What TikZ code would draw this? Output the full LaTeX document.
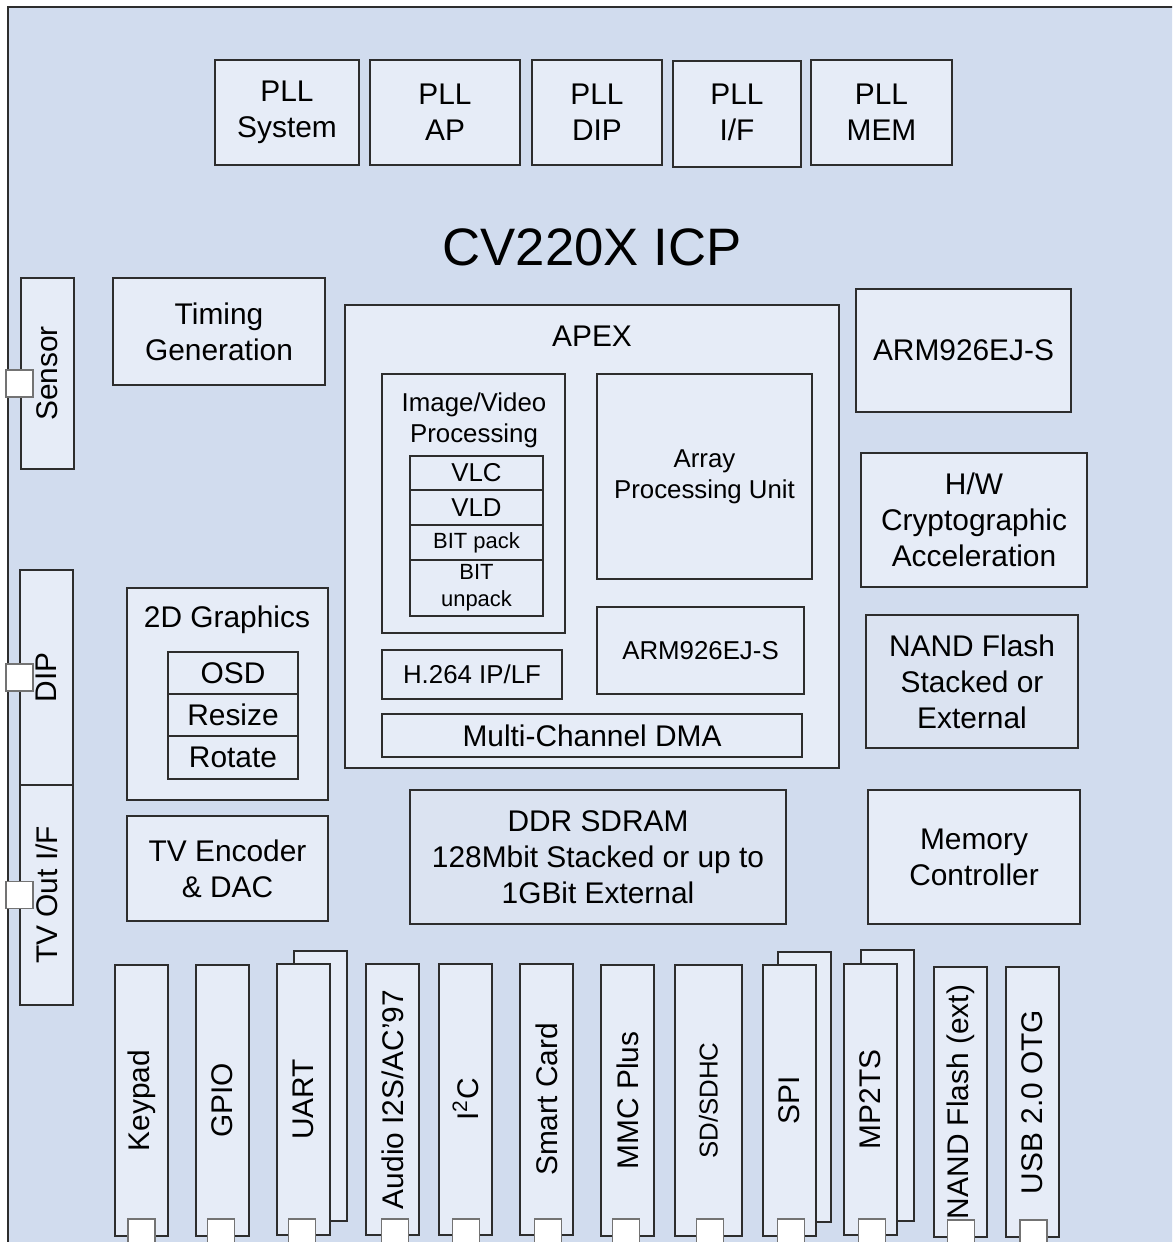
\documentclass[tikz,border=0pt]{standalone}
\usepackage{fontspec}
\setmainfont{Liberation Sans}
\usepackage{xcolor}
\usetikzlibrary{fit,calc}
\definecolor{chipbg}{RGB}{209,220,238}
\definecolor{blkfill}{RGB}{230,236,247}
\definecolor{memfill}{RGB}{219,227,241}
\definecolor{blkline}{RGB}{45,45,45}
\tikzset{blk/.style={draw=blkline, fill=blkfill, line width=0.8pt, inner sep=0pt},
port/.style={draw=black!55, fill=white, line width=0.8pt, minimum size=5.4mm, inner sep=0pt},
lbl/.style={inner sep=0pt, align=center, font=\fontsize{17}{20.4}\selectfont},
%smaller text inside the APEX core
smalllbl/.style={lbl, font=\fontsize{14.7}{17.8}\selectfont},
tinylbl/.style={lbl, font=\fontsize{12.5}{15.3}\selectfont}}

\begin{document}
\begin{tikzpicture}[x=0.2mm, y=-0.2mm]
 \useasboundingbox (0,0) rectangle (1172,1242);
 \clip (0,0) rectangle (1172,1242);

 %Drawing chip outline
 \node[blk, fill=chipbg, fit={(8,7) (1200,1270)}] (chip) {};
 \node[lbl, font=\fontsize{30}{36}\selectfont] (cvtitle) at (592,247) {CV220X ICP};

 %Drawing PLLs
 \node[blk, fit={(215,60) (359,165)}] (pllsys) {};
 \node[lbl] (labelpllsys) at (pllsys.center) {PLL\\System};
 \node[blk, fit={(370,60) (520,165)}] (pllap) {};
 \node[lbl] (labelpllap) at (pllap.center) {PLL\\AP};
 \node[blk, fit={(532,60) (662,165)}] (plldip) {};
 \node[lbl] (labelplldip) at (plldip.center) {PLL\\DIP};
 \node[blk, fit={(673,61) (801,167)}] (pllif) {};
 \node[lbl] (labelpllif) at (737,112.5) {PLL\\I/F};
 \node[blk, fit={(811,60) (952,165)}] (pllmem) {};
 \node[lbl] (labelpllmem) at (pllmem.center) {PLL\\MEM};

 %Drawing left interfaces
 \node[blk, fit={(21,278) (74,469)}] (sensor) {};
 \node[lbl, rotate=90] (labelsensor) at (sensor.center) {Sensor};
 \node[port] (sensorport) at (19.5,383.5) {};
 \node[blk, fit={(20,570) (73,785)}] (dip) {};
 \node[lbl, rotate=90] (labeldip) at (dip.center) {DIP};
 \node[port] (dipport) at (19.5,677.5) {};
 \node[blk, fit={(20,785) (73,1005)}] (tvout) {};
 \node[lbl, rotate=90] (labeltvout) at (tvout.center) {TV Out I/F};
 \node[port] (tvoutport) at (19.5,895) {};

 %Drawing left blocks
 \node[blk, fit={(113,278) (325,385)}] (timing) {};
 \node[lbl] (labeltiming) at (timing.center) {Timing\\Generation};
 \node[blk, fit={(127,588) (328,800)}] (gfx) {};
 \node[lbl] (labelgfx) at (227,620) {2D Graphics};
 \node[blk, fit={(168,652) (298,694)}] (osd) {};
 \node[lbl] (labelosd) at (osd.center) {OSD};
 \node[blk, fit={(168,694) (298,736)}] (resize) {};
 \node[lbl] (labelresize) at (resize.center) {Resize};
 \node[blk, fit={(168,736) (298,779)}] (rotblk) {};
 \node[lbl] (labelrotblk) at (rotblk.center) {Rotate};
 \node[blk, fit={(127,816) (328,921)}] (tvenc) {};
 \node[lbl] (labeltvenc) at (tvenc.center) {TV Encoder\\\& DAC};

 %Drawing APEX
 \node[blk, fit={(345,305) (839,768)}] (apex) {};
 \node[lbl] (labelapex) at (592,336) {APEX};
 \node[blk, fit={(382,374) (565,633)}] (imgvid) {};
 \node[smalllbl] (labelimgvid) at (474,420) {Image/Video\\Processing};
 \node[blk, fit={(410,456) (543,490)}] (vlc) {};
 \node[smalllbl] (labelvlc) at (vlc.center) {VLC};
 \node[blk, fit={(410,490) (543,525)}] (vld) {};
 \node[smalllbl] (labelvld) at (vld.center) {VLD};
 \node[blk, fit={(410,525) (543,560)}] (bitpack) {};
 \node[tinylbl] (labelbitpack) at (bitpack.center) {BIT pack};
 \node[blk, fit={(410,560) (543,616)}] (bitunpack) {};
 \node[tinylbl] (labelbitunpack) at (bitunpack.center) {BIT\\unpack};
 \node[blk, fit={(597,374) (812,579)}] (apu) {};
 \node[smalllbl] (labelapu) at (apu.center) {Array\\Processing Unit};
 \node[blk, fit={(597,607) (804,694)}] (armin) {};
 \node[smalllbl] (labelarmin) at (armin.center) {ARM926EJ-S};
 \node[blk, fit={(382,650) (562,699)}] (h264) {};
 \node[smalllbl] (labelh264) at (h264.center) {H.264 IP/LF};
 \node[blk, fit={(382,714) (802,757)}] (dma) {};
 \node[lbl] (labeldma) at (dma.center) {Multi-Channel DMA};

 %Drawing right blocks
 \node[blk, fit={(856,289) (1071,412)}] (armout) {};
 \node[lbl] (labelarmout) at (armout.center) {ARM926EJ-S};
 \node[blk, fit={(861,453) (1087,587)}] (crypto) {};
 \node[lbl] (labelcrypto) at (crypto.center) {H/W\\Cryptographic\\Acceleration};
 \node[blk, fill=memfill, fit={(866,615) (1078,748)}] (nand) {};
 \node[lbl] (labelnand) at (nand.center) {NAND Flash\\Stacked or\\External};
 \node[blk, fit={(868,790) (1080,924)}] (memctl) {};
 \node[lbl] (labelmemctl) at (memctl.center) {Memory\\Controller};
 \node[blk, fill=memfill, fit={(410,790) (786,924)}] (ddr) {};
 \node[lbl] (labelddr) at (ddr.center) {DDR SDRAM\\128Mbit Stacked or up to\\1GBit External};

 %Drawing bottom interfaces
 \node[blk, fit={(115,965) (168,1236)}] (keypad) {};
 \node[lbl, rotate=90] (labelkeypad) at (keypad.center) {Keypad};
 \node[port] (keypadport) at (141.5,1232.5) {};

 \node[blk, fit={(196,965) (249,1236)}] (gpio) {};
 \node[lbl, rotate=90] (labelgpio) at (gpio.center) {GPIO};
 \node[port] (gpioport) at (221,1232.5) {};

 \node[blk, fit={(294,951) (347,1221)}] (uartback) {};
 \node[blk, fit={(277,964) (330,1235)}] (uart) {};
 \node[lbl, rotate=90] (labeluart) at (uart.center) {UART};
 \node[port] (uartport) at (302,1232.5) {};

 \node[blk, fit={(366,964) (419,1235)}] (audio) {};
 \node[lbl, rotate=90] (labelaudio) at (audio.center) {Audio I2S/AC'97};
 \node[port] (audioport) at (395,1232.5) {};

 \node[blk, fit={(439,964) (492,1235)}] (iic) {};
 \node[lbl, rotate=90] (labeliic) at (iic.center) {I\textsuperscript{2}C};
 \node[port] (iicport) at (466,1232.5) {};

 \node[blk, fit={(520,964) (573,1235)}] (smartcard) {};
 \node[lbl, rotate=90] (labelsmartcard) at (smartcard.center) {Smart Card};
 \node[port] (smartcardport) at (548,1232.5) {};

 \node[blk, fit={(601,965) (654,1236)}] (mmc) {};
 \node[lbl, rotate=90] (labelmmc) at (mmc.center) {MMC Plus};
 \node[port] (mmcport) at (626,1232.5) {};

 \node[blk, fit={(675,965) (742,1236)}] (sdhc) {};
 \node[smalllbl, rotate=90] (labelsdhc) at (sdhc.center) {SD/SDHC};
 \node[port] (sdhcport) at (710,1232.5) {};

 \node[blk, fit={(778,952) (831,1222)}] (spiback) {};
 \node[blk, fit={(763,965) (816,1236)}] (spi) {};
 \node[lbl, rotate=90] (labelspi) at (spi.center) {SPI};
 \node[port] (spiport) at (791,1232.5) {};

 \node[blk, fit={(861,950) (914,1221)}] (mptsback) {};
 \node[blk, fit={(844,964) (897,1235)}] (mpts) {};
 \node[lbl, rotate=90] (labelmpts) at (mpts.center) {MP2TS};
 \node[port] (mptsport) at (872,1232.5) {};

 \node[blk, fit={(934,967) (987,1237)}] (nandext) {};
 \node[lbl, rotate=90] (labelnandext) at (nandext.center) {NAND Flash (ext)};
 \node[port] (nandextport) at (961,1233.5) {};

 \node[blk, fit={(1006,967) (1059,1237)}] (usb) {};
 \node[lbl, rotate=90] (labelusb) at (usb.center) {USB 2.0 OTG};
 \node[port] (usbport) at (1033.5,1233.5) {};
\end{tikzpicture}
\end{document}
